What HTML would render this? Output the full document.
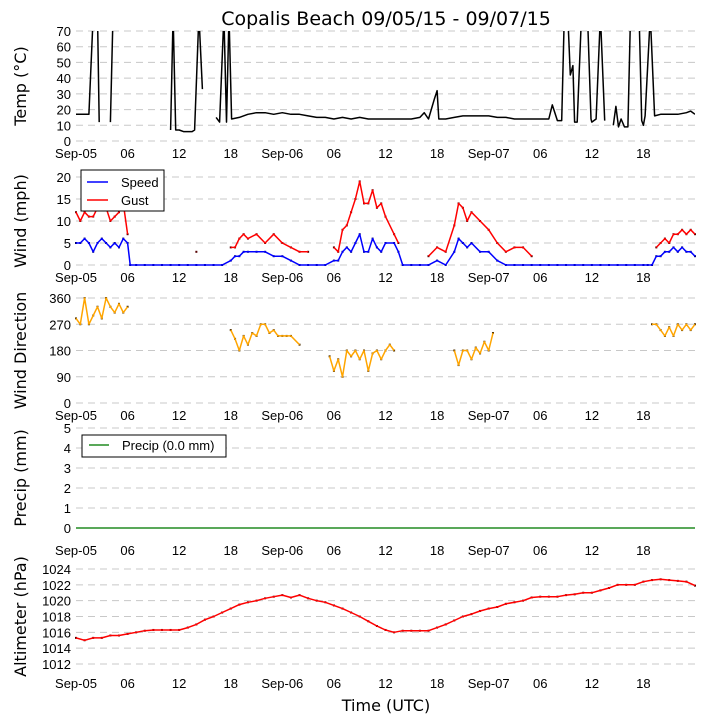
<!DOCTYPE html>
<html><head><meta charset="utf-8"><style>
body{margin:0;background:#fff}
svg{display:block;font-family:"Liberation Sans","DejaVu Sans",sans-serif}
.dj{font-family:"DejaVu Sans","Liberation Sans",sans-serif}
</style></head><body>
<svg id="c" width="705" height="725" xmlns="http://www.w3.org/2000/svg">
<rect width="705" height="725" fill="#fff"/>
<text class="dj" x="386" y="25" font-size="19" text-anchor="middle">Copalis Beach 09/05/15 - 09/07/15</text>
<text class="dj" x="386" y="711" font-size="16" text-anchor="middle">Time (UTC)</text>
</svg>
<script>
const xTickLabels=["Sep-05","06","12","18","Sep-06","06","12","18","Sep-07","06","12","18"];
const xTickHours=[0,6,12,18,24,30,36,42,48,54,60,66];
const tempHours=[0,0.5,1,1.5,2,2.5,2.7,null,4,4.3,4.7,null,9.2,null,10,null,11,11.3,11.6,12,12.5,13,13.5,13.8,14.3,14.7,null,16.3,16.7,17.2,17.5,17.8,18.1,19,20,21,22,23,24,25,26,27,28,29,30,31,32,33,34,35,36,37,38,39,40,40.5,41,41.7,42,42.2,43,44,45,46,47,48,49,50,51,52,53,54,55,55.4,56,56.5,56.8,57.2,57.5,57.8,58,58.3,58.8,59.5,59.9,60,60.5,61,61.5,null,62.5,62.8,63.1,63.4,63.8,64.2,64.5,65.5,65.8,66,66.2,66.8,67.3,68,69,70,71,71.5,72];
const tempValues=[17,17,17,17,80,80,12,null,12,80,80,null,38,null,8,null,7,80,7,7,6,6,6,7,80,33,null,15,12,80,12,80,14,15,17,18,18,17,18,17,17,16,15,15,14,15,14,15,14,14,14,14,14,14,15,18,14,27,32,14,14,15,16,16,16,16,15,15,14,14,14,14,14,23,13,13,80,80,42,48,12,12,80,80,14,12,14,80,13,null,10,22,9,14,9,9,80,80,13,10,16,80,16,17,17,17,18,19,17];
const windHours=[0,0.5,1,1.5,2,2.5,3,3.5,4,4.5,5,5.5,6,6.3,7,8,9,10,11,12,13,14,15,16,17,18,18.5,19,19.5,20,21,22,23,24,25,26,27,28,29,30,30.5,31,31.5,32,32.5,33,33.5,34,34.5,35,35.5,36,37,37.5,38,39,40,41,42,43,44,44.5,45,45.5,46,47,48,49,50,51,52,53,54,55,56,57,58,59,60,61,62,63,64,65,66,66.5,67,67.5,68,68.5,69,69.5,70,70.5,71,71.5,72];
const speedValues=[5,5,6,5,3,5,6,5,4,5,4,6,5,0,0,0,0,0,0,0,0,0,0,0,0,1,2,2,3,3,3,3,2,2,1,0,0,0,0,1,1,3,4,3,5,7,3,3,6,4,3,5,5,3,0,0,0,0,1,0,3,6,5,4,5,3,3,1,0,0,0,0,0,0,0,0,0,0,0,0,0,0,0,0,0,0,0,2,2,3,3,4,3,4,3,3,2,0];
const gustValues=[12,10,12,11,11,13,14,13,10,11,12,14,7,null,null,null,null,null,null,null,null,3,null,null,null,4,4,6,7,6,7,5,7,5,4,3,3,null,null,4,3,8,9,12,15,19,14,14,17,13,14,11,7,5,null,null,null,2,4,3,9,14,13,10,12,10,8,5,3,4,4,2,null,null,null,null,null,null,null,null,null,null,null,null,null,null,null,4,5,6,5,7,7,8,7,8,7,6,4];
const dirHours=[0,0.5,1,1.5,2,2.5,3,3.5,4,4.5,5,5.5,6,null,18,18.5,19,19.5,20,20.5,21,21.5,22,22.5,23,23.5,24,24.5,25,26,null,29.5,30,30.5,31,31.5,32,32.5,33,33.5,34,34.5,35,35.5,36,36.5,37,null,44,44.5,45,45.5,46,46.5,47,47.5,48,48.5,null,67,67.5,68,68.5,69,69.5,70,70.5,71,71.5,72];
const dirValues=[290,270,360,270,300,330,290,360,330,310,340,310,330,null,250,220,180,230,200,240,230,270,270,240,250,230,230,230,230,200,null,160,110,150,90,180,160,180,150,180,110,170,180,150,180,200,180,null,180,130,180,180,150,190,170,210,180,240,null,270,270,250,230,260,230,270,250,270,250,270];
const altHours=[0,1,2,3,4,5,6,7,8,9,10,11,12,13,14,15,16,17,18,19,20,21,22,23,24,25,26,27,28,29,30,31,32,33,34,35,36,37,38,39,40,41,42,43,44,45,46,47,48,49,50,51,52,53,54,55,56,57,58,59,60,61,62,63,64,65,66,67,68,69,70,71,72];
const altValues=[1015.3,1015,1015.3,1015.3,1015.6,1015.6,1015.8,1016,1016.2,1016.3,1016.3,1016.3,1016.3,1016.6,1017,1017.6,1018,1018.5,1019,1019.5,1019.8,1020,1020.3,1020.5,1020.7,1020.4,1020.7,1020.3,1020,1019.8,1019.4,1019,1018.5,1018,1017.4,1016.8,1016.3,1016,1016.2,1016.2,1016.2,1016.2,1016.6,1017,1017.5,1018,1018.3,1018.7,1019,1019.2,1019.6,1019.8,1020,1020.4,1020.5,1020.5,1020.5,1020.7,1020.8,1021,1021,1021.3,1021.6,1022,1022,1022,1022.4,1022.6,1022.7,1022.6,1022.5,1022.4,1021.9];
const precipHours=[0,72];
const precipValues=[0,0];

const svg=document.getElementById('c');
const NS='http://www.w3.org/2000/svg';
const X0=76,X1=695;
function xs(h){return X0+(X1-X0)*h/72;}
function mk(tag,attrs,parent){const e=document.createElementNS(NS,tag);for(const k in attrs)e.setAttribute(k,attrs[k]);(parent||svg).appendChild(e);return e;}
function panel(name,top,bottom,vmin,vmax,ticks,labelFmt,title,xlabY){
  const g=mk('g',{});
  
  
  const ys=v=>bottom-(v-vmin)/(vmax-vmin)*(bottom-top);
  ticks.forEach(t=>{
    const y=ys(t);
    const l=mk('line',{x1:X0,x2:X1,y1:y,y2:y,stroke:'#c8c8c8','stroke-dasharray':'7,5'},g);
    
    
    const tx=mk('text',{x:X0-5,y:y+5,'font-size':13,'text-anchor':'end'},g);
    tx.textContent=labelFmt(t);
    
    
  });
  xTickHours.forEach((h,i)=>{
    const tx=mk('text',{x:xs(h),y:xlabY,'font-size':13,'text-anchor':'middle'},g);
    tx.textContent=xTickLabels[i];
    
    
  });
  const cy=(top+bottom)/2;
  const tt=mk('text',{x:0,y:0,'font-size':16,'text-anchor':'middle',class:'dj',transform:`translate(26,${cy}) rotate(-90)`},g);
  tt.textContent=title;
  
  
  return {g,ys};
}
function series(p,hours,vals,color,name,clipId,dots){
  let d='',pen=false;
  for(let i=0;i<hours.length;i++){
    if(hours[i]===null||vals[i]===null){pen=false;continue;}
    const x=xs(hours[i]),y=p.ys(vals[i]);
    d+=(pen?'L':'M')+x.toFixed(1)+','+y.toFixed(1);pen=true;
    if(dots){const c=mk('rect',{x:x-1,y:y-1,width:2,height:2,fill:dots},p.g);
      
      }
  }
  const path=mk('path',{d:d,fill:'none',stroke:color,'stroke-width':1.5,'stroke-linejoin':'round'},p.g);
  if(clipId)path.setAttribute('clip-path',`url(#${clipId})`);
  
  
}
const defs=mk('defs',{});
const cp=mk('clipPath',{id:'tclip'},defs);mk('rect',{x:X0,y:31,width:X1-X0,height:111},cp);

const pT=panel('temperature-panel',31,141,0,70,[0,10,20,30,40,50,60,70],t=>t,'Temp (\u00b0C)',158);
series(pT,tempHours,tempValues,'#000','temperature-line','tclip',null);
const pW=panel('wind-panel',177,265,0,20,[0,5,10,15,20],t=>t,'Wind (mph)',282);
series(pW,windHours,gustValues,'#ff0000','gust-line',null,'#500');
series(pW,windHours,speedValues,'#0000ff','speed-line',null,'#006');
const lg=mk('g',{});


mk('rect',{x:81,y:170,width:83,height:41,fill:'#fff',stroke:'#000','stroke-width':1},lg);
mk('line',{x1:87,x2:108,y1:182,y2:182,stroke:'#0000ff','stroke-width':1.5},lg);
mk('line',{x1:87,x2:108,y1:200,y2:200,stroke:'#ff0000','stroke-width':1.5},lg);
const l1=mk('text',{x:121,y:187,'font-size':13},lg);l1.textContent='Speed';
const l2=mk('text',{x:121,y:205,'font-size':13},lg);l2.textContent='Gust';
const pD=panel('direction-panel',298,403,0,360,[0,90,180,270,360],t=>t,'Wind Direction',420);
series(pD,dirHours,dirValues,'#ffa500','direction-line',null,'#503000');
const pP=panel('precip-panel',428,528,0,5,[0,1,2,3,4,5],t=>t,'Precip (mm)',555);
series(pP,precipHours,precipValues,'#228b22','precip-line',null,null);
const lg2=mk('g',{});


mk('rect',{x:82,y:435,width:144,height:22,fill:'#fff',stroke:'#000','stroke-width':1},lg2);
mk('line',{x1:89,x2:109,y1:445,y2:445,stroke:'#228b22','stroke-width':1.5},lg2);
const l3=mk('text',{x:122,y:450,'font-size':13},lg2);l3.textContent='Precip (0.0 mm)';
const pA=panel('altimeter-panel',569,664,1012,1024,[1012,1014,1016,1018,1020,1022,1024],t=>t,'Altimeter (hPa)',688);
series(pA,altHours,altValues,'#ff0000','altimeter-line',null,'#500');
</script>
</body></html>
